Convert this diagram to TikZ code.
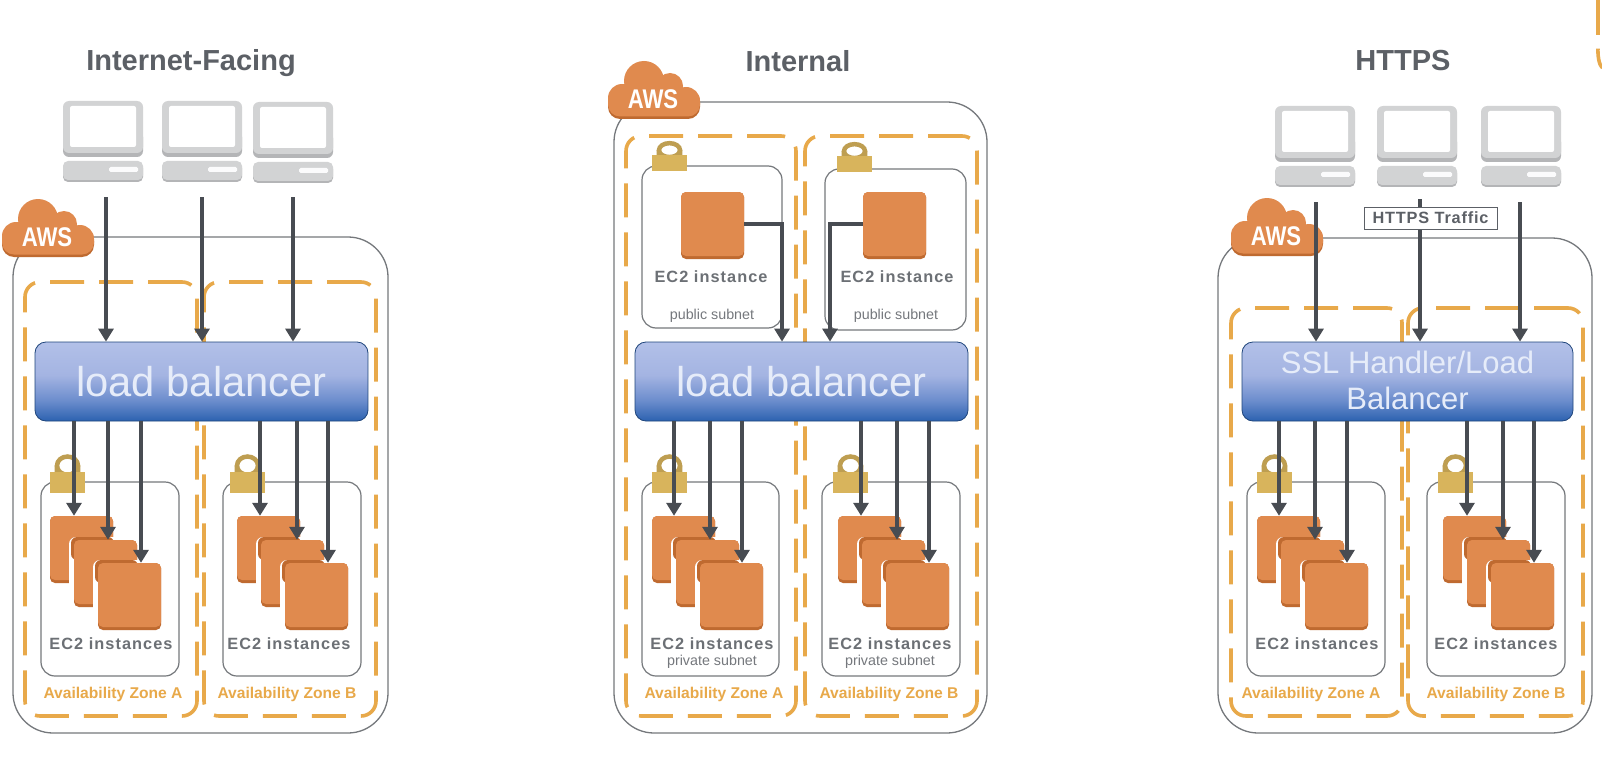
\documentclass[tikz,border=0pt]{standalone}
\usepackage{fontspec}
\setmainfont{Liberation Sans}
\usetikzlibrary{arrows.meta}
\definecolor{azorange}{HTML}{E8A94A}
\definecolor{ecfill}{HTML}{E08A4E}
\definecolor{ecdark}{HTML}{BF6A30}
\definecolor{lockc}{HTML}{D8B45C}
\definecolor{lineg}{HTML}{75787C}
\definecolor{arrowc}{HTML}{484C52}
\definecolor{txtg}{HTML}{5C6066}
\definecolor{monc}{HTML}{D2D3D4}
\definecolor{mond}{HTML}{B4B5B7}
\definecolor{lba}{HTML}{B2C0E8}
\definecolor{lbb}{HTML}{A4B4E2}
\definecolor{lbc}{HTML}{6C8DCD}
\definecolor{lbd}{HTML}{2C62B0}
\definecolor{lbtxt}{HTML}{E6ECF9}
\pgfdeclareverticalshading{lbshade}{100bp}{color(0bp)=(lbd); color(25bp)=(lbd); color(38bp)=(lbc); color(54bp)=(lbb); color(75bp)=(lba); color(100bp)=(lba)}
\newcommand{\fs}[1]{\fontsize{#1}{#1}\selectfont}
\tikzset{
  x=1pt,y=-1pt,
  awsbox/.style={draw=lineg,line width=1.3pt,rounded corners=40pt,inner sep=0pt},
  zonebox/.style={draw=azorange,line width=3.6pt,rounded corners=15pt,dash pattern=on 34pt off 15pt,inner sep=0pt},
  subnet/.style={draw=lineg,line width=1.2pt,rounded corners=14pt,inner sep=0pt},
  lbbox/.style={draw=lbd!70!black,line width=.8pt,rounded corners=11pt,shading=lbshade,inner sep=0pt,text=lbtxt,align=center},
  ecbox/.style={fill=ecfill,rounded corners=5pt,inner sep=0pt},
  flowarrow/.style={-{Triangle[width=15pt,length=13pt]},color=arrowc,line width=3.1pt},
  title/.style={font=\fs{29}\bfseries,text=txtg,inner sep=0pt},
  ectext/.style={font=\fs{16.3}\bfseries\addfontfeature{LetterSpace=6.5},text=txtg!90,inner sep=0pt},
  smalltext/.style={font=\fs{14.3},text=txtg!85,inner sep=0pt},
  aztext/.style={font=\fs{15.6}\bfseries,text=azorange,inner sep=0pt},
}
% box from corners: name, xl, yt, xr, yb, text
\newcommand{\bx}[7][]{\node[#2,minimum width={(#5-#3)*1pt},minimum height={(#6-#4)*1pt},#1] at ({(#3+#5)/2},{(#4+#6)/2}) {#7};}
% monitor: name, left, top
\newcommand{\monitor}[3]{%
  \begin{scope}[shift={(#2,#3)}]
    \fill[mond,rounded corners=6pt] (0,30) rectangle (80,56);
    \fill[monc,rounded corners=6pt] (0,0) rectangle (80,52);
    \fill[white,rounded corners=2pt] (7,5) rectangle (73,46);
    \fill[mond,rounded corners=5pt] (0,62) rectangle (80,81);
    \fill[monc,rounded corners=5pt] (0,60) rectangle (80,79);
    \fill[white!92!monc,rounded corners=1.5pt] (46,66) rectangle (75,71);
    \node[inner sep=0pt,minimum size=0pt] (#1) at (40,40) {};
  \end{scope}}
% cloud: name, left, top
\newcommand{\cloud}[3]{%
  \begin{scope}[shift={(#2,#3)}]
    \fill[ecdark,rounded corners=12pt] (0,30) rectangle (92,58);
    \fill[ecfill] (36,20) circle[radius=20pt] (62,25) circle[radius=13pt]
       (14,37) circle[radius=14pt] (78,40) circle[radius=14pt];
    \fill[ecfill,rounded corners=12pt] (0,28) rectangle (92,55.5);
    \node[font=\fs{27}\bfseries,text=white,xscale=.82,inner sep=0pt] (#1) at (45,38) {AWS};
  \end{scope}}
% lock: left, bottom, height
\newcommand{\lock}[3]{%
  \begin{scope}[shift={(#1,#2)}]
    \draw[lockc!88!black,line width=4.5pt] (17.5,{-#3*.72}) circle[x radius=10.5pt,y radius={#3*.24*1pt}];
    \fill[lockc!88!black] (4.7,{-#3*.72}) rectangle (9.2,{-#3*.45}) (25.8,{-#3*.72}) rectangle (30.3,{-#3*.45});
    \fill[lockc] (0,0) rectangle (35,{-#3*.54});
  \end{scope}}
% ec2 square: name, left, top
\newcommand{\ecsq}[3]{%
  \fill[ecdark,rounded corners=5pt] (#2,#3) rectangle (#2+63,#3+67);
  \node[ecbox,minimum width=63pt,minimum height=64pt] (#1) at (#2+31.5,#3+32) {};}
% stacked ec2 square with a light edge and dark top edge over the one behind
\newcommand{\ecstack}[3]{%
  \fill[white,rounded corners=7pt] (#2-5,#3-3) rectangle (#2+62,#3+68);
  \fill[ecdark,rounded corners=6pt] (#2-3,#3-3) rectangle (#2+40,#3+20);
  \ecsq{#1}{#2}{#3}}
% group: prefix, subnet l, subnet r, lock x, square x, a1, a2, a3, text x
\newcommand{\instgroup}[9]{%
  \bx{subnet}{#2}{482}{#3}{676}{}
  \lock{#4}{493}{38}
  \ecsq{#1a}{#5}{516}
  \ecstack{#1b}{#5+24}{540}
  \ecstack{#1c}{#5+48}{563}
  \draw[flowarrow] (#6,0 |- lb.south) -- (#6,0 |- #1a.north);
  \draw[flowarrow] (#7,0 |- lb.south) -- (#7,0 |- #1b.north);
  \draw[flowarrow] (#8,0 |- lb.south) -- (#8,0 |- #1c.north);
  \node[ectext] (#1t) at (#9,644) {EC2 instances};}
\begin{document}
\begin{tikzpicture}
\useasboundingbox[fill=white] (0,0) rectangle (1602,762);

% ---------- Internet-Facing ----------
\begin{scope}
  \node[title] (t1) at (191,63) {Internet-Facing};
  \monitor{m1}{63}{101}\monitor{m2}{162}{101}\monitor{m3}{253}{102}
  \bx[name=aws]{awsbox}{13}{237}{388}{733}{}
  \bx{zonebox}{25}{282}{197}{716}{}
  \bx{zonebox}{204}{282}{376}{716}{}
  \cloud{c1}{2}{199}
  \bx[name=lb]{lbbox}{35}{342}{368}{421}{\fs{41.7}load balancer}
  \coordinate (s1) at (106,197);\coordinate (s2) at (202,197);\coordinate (s3) at (293,197);
  \draw[flowarrow] (s1) -- (s1 |- lb.north);
  \draw[flowarrow] (s2) -- (s2 |- lb.north);
  \draw[flowarrow] (s3) -- (s3 |- lb.north);
  \instgroup{pa}{41}{179}{50}{50}{74}{108}{141}{111}
  \instgroup{pb}{223}{361}{230}{237}{260}{297}{328}{289}
  \node[aztext] (za) at (113,694) {Availability Zone A};
  \node[aztext] (zb) at (287,694) {Availability Zone B};
\end{scope}

% ---------- Internal ----------
\begin{scope}
  \node[title] (t2) at (798,61) {Internal};
  \bx{awsbox}{614}{102}{987}{733}{}
  \bx{zonebox}{626}{136}{796}{716}{}
  \bx{zonebox}{805}{136}{977}{716}{}
  \cloud{c2}{608}{61}
  \bx[name=lb]{lbbox}{635}{342}{968}{421}{\fs{41.7}load balancer}
  \bx{subnet}{642}{166}{782}{328}{}
  \bx{subnet}{825}{169}{966}{330}{}
  \lock{652}{171}{29}
  \lock{837}{172}{29}
  \ecsq{qa}{681}{192}
  \ecsq{qb}{863}{192}
  \coordinate (qa1) at (782,224);\coordinate (qb1) at (830,224);
  \draw[flowarrow] (qa.east) -- (qa1) -- (qa1 |- lb.north);
  \draw[flowarrow] (qb.west) -- (qb1) -- (qb1 |- lb.north);
  \node[ectext] (qat) at (711,277) {EC2 instance};
  \node[ectext] (qbt) at (897,277) {EC2 instance};
  \node[smalltext] (qas) at (712,316) {public subnet};
  \node[smalltext] (qbs) at (896,316) {public subnet};
  \instgroup{ra}{642}{779}{652}{652}{674}{710}{742}{712}
  \instgroup{rb}{822}{960}{833}{838}{861}{897}{929}{890}
  \node[smalltext] (rap) at (712,662) {private subnet};
  \node[smalltext] (rbp) at (890,662) {private subnet};
  \node[aztext] (zc) at (714,694) {Availability Zone A};
  \node[aztext] (zd) at (889,694) {Availability Zone B};
\end{scope}

% ---------- HTTPS ----------
\begin{scope}
  \node[title] (t3) at (1403,61) {HTTPS};
  \monitor{m4}{1275}{106}\monitor{m5}{1377}{106}\monitor{m6}{1481}{106}
  \bx{awsbox}{1218}{238}{1592}{733}{}
  \bx{zonebox}{1231}{308}{1402}{716}{}
  \bx{zonebox}{1408}{308}{1583}{716}{}
  \cloud{c3}{1231}{198}
  \bx[name=lb]{lbbox}{1242}{342}{1573}{421}{\fs{31}\rule{0pt}{29pt}SSL Handler/Load\\[13pt]\fs{31}Balancer\rule[-9pt]{0pt}{9pt}}
  \coordinate (s4) at (1316,202);\coordinate (s5) at (1420,199);\coordinate (s6) at (1520,202);
  \draw[flowarrow] (s4) -- (s4 |- lb.north);
  \draw[flowarrow] (s5) -- (s5 |- lb.north);
  \draw[flowarrow] (s6) -- (s6 |- lb.north);
  \bx[font=\fs{16.3}\bfseries\addfontfeature{LetterSpace=5},text=txtg,fill=white,draw=txtg,line width=1pt,inner sep=0pt]{}{1364}{207}{1497}{229}{HTTPS Traffic}
  \instgroup{ua}{1247}{1385}{1257}{1257}{1279}{1315}{1347}{1317}
  \instgroup{ub}{1427}{1565}{1438}{1443}{1467}{1503}{1534}{1496}
  \node[aztext] (ze) at (1311,694) {Availability Zone A};
  \node[aztext] (zf) at (1496,694) {Availability Zone B};
\end{scope}

% fragment at the top right edge
\draw[azorange,line width=3.6pt] (1598,0) -- (1598,35);
\draw[azorange,line width=3.6pt] (1598,50) to[out=90,in=180] (1604,68);
\end{tikzpicture}
\end{document}
